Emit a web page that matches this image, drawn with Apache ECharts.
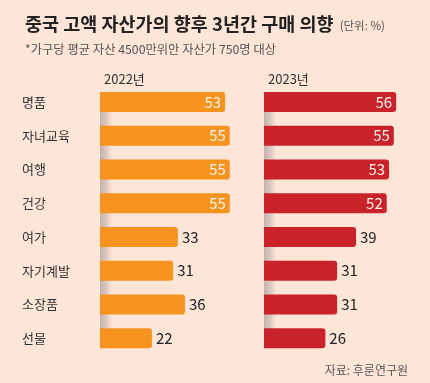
<!DOCTYPE html>
<html><head><meta charset="utf-8">
<script src="https://cdn.jsdelivr.net/npm/echarts@6/dist/echarts.min.js"></script>
<style>html,body{margin:0;padding:0;background:#fde5d7;}#c{width:430px;height:383px;}</style>
</head><body><div id="c"></div>
<script>
const categories = ['명품','자녀교육','여행','건강','여가','자기계발','소장품','선물'];
const values2022 = [53,55,55,55,33,31,36,22];
const values2023 = [56,55,53,52,39,31,31,26];
const yearLabels = ['2022년','2023년'];
const titleText = '중국 고액 자산가의 향후 3년간 구매 의향';
const unitText = '(단위: %)';
const subText = '*가구당 평균 자산 4500만위안 자산가 750명 대상';
const sourceText = '자료: 후룬연구원';

const FONT = '"Noto Sans CJK KR", "Noto Sans", sans-serif';
const ORANGE = '#f6921e';
const RED = '#c9222b';
const GT = 85, GH = 270, GW = 141.6;

function mk(vals){
  return vals.map(v => ({
    value: v,
    label: v >= 50
      ? {position:'insideRight', color:'#fff5ea', distance:4}
      : {position:'right', color:'#222', distance:4}
  }));
}
function shade(){
  return new echarts.graphic.LinearGradient(0,0,1,0,[
    {offset:0,color:'rgba(150,140,140,0.55)'},
    {offset:0.5,color:'rgba(150,140,140,0.35)'},
    {offset:1,color:'rgba(150,140,140,0)'}]);
}

const chart = echarts.init(document.getElementById('c'));
chart.setOption({
  backgroundColor:'#fde5d7',
  animation:false,
  title:[
    {text: titleText + ' {u|' + unitText + '}', left:20, top:10,
     textStyle:{fontFamily:FONT, fontSize:18.5, fontWeight:'bold', color:'#222',
       rich:{u:{fontFamily:FONT, fontSize:11.5, color:'#555', fontWeight:'normal', padding:[2,0,0,2]}}}},
    {text: subText, left:20, top:38, textStyle:{fontFamily:FONT, fontSize:12.3, fontWeight:'normal', color:'#555'}},
    {text: yearLabels[0], left:99, top:68, textStyle:{fontFamily:FONT, fontSize:13, fontWeight:'normal', color:'#333'}},
    {text: yearLabels[1], left:263, top:68, textStyle:{fontFamily:FONT, fontSize:13, fontWeight:'normal', color:'#333'}},
    {text: sourceText, right:17, top:359, textStyle:{fontFamily:FONT, fontSize:12, fontWeight:'normal', color:'#555'}}
  ],
  graphic:[
    {type:'rect', z:1, shape:{x:100,y:92,width:12,height:256}, style:{fill:shade()}},
    {type:'rect', z:1, shape:{x:264,y:92,width:12,height:256}, style:{fill:shade()}}
  ],
  grid:[
    {left:100, top:GT, width:GW, height:GH},
    {left:264, top:GT, width:GW, height:GH}
  ],
  xAxis:[
    {gridIndex:0, type:'value', min:0, max:60, show:false},
    {gridIndex:1, type:'value', min:0, max:60, show:false}
  ],
  yAxis:[
    {gridIndex:0, type:'category', data:categories, inverse:true,
     axisLine:{show:false}, axisTick:{show:false},
     axisLabel:{align:'left', margin:78, fontFamily:FONT, fontSize:13, color:'#333'}},
    {gridIndex:1, type:'category', data:categories, inverse:true, show:false}
  ],
  series:[
    {type:'bar', xAxisIndex:0, yAxisIndex:0, z:5, data:mk(values2022), barWidth:20,
     itemStyle:{color:ORANGE, borderRadius:[0,3,3,0]},
     label:{show:true, fontFamily:FONT, fontSize:15}},
    {type:'bar', xAxisIndex:1, yAxisIndex:1, z:5, data:mk(values2023), barWidth:20,
     itemStyle:{color:RED, borderRadius:[0,3,3,0]},
     label:{show:true, fontFamily:FONT, fontSize:15}}
  ]
});
</script></body></html>
